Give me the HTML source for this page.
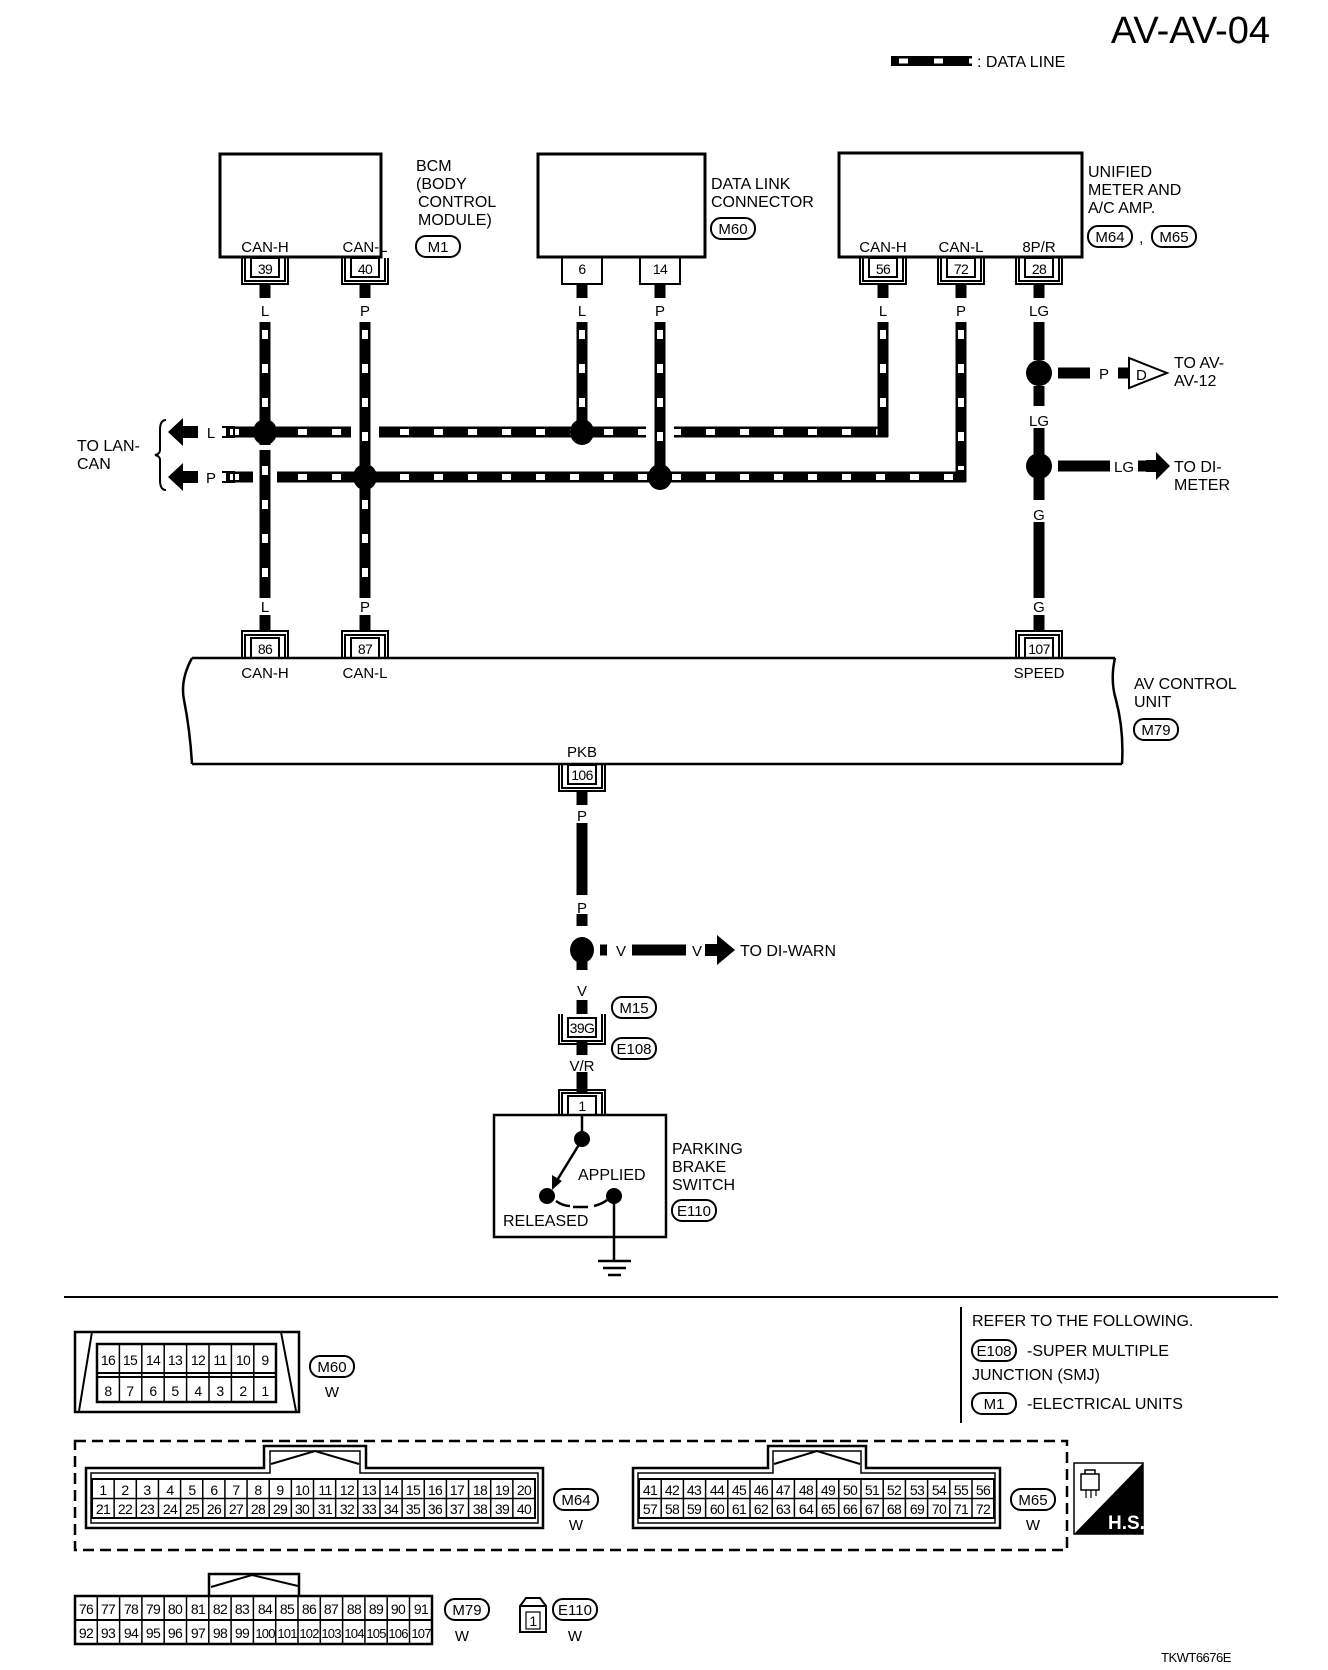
<!DOCTYPE html>
<html><head><meta charset="utf-8"><style>
html,body{margin:0;padding:0;background:#fff;}
svg{display:block;}
text{font-family:"Liberation Sans",sans-serif;fill:#000;}
.l{font-size:16px;}
.w{font-size:15px;text-anchor:middle;}
.n{font-size:14px;text-anchor:middle;letter-spacing:-0.6px;}
.c{font-size:13px;text-anchor:middle;letter-spacing:-0.8px;}
</style></head><body>
<svg width="1328" height="1670" viewBox="0 0 1328 1670" xmlns="http://www.w3.org/2000/svg">
<defs>
<g id="ov"><rect x="0" y="0" width="44" height="21" rx="10" ry="10" fill="#fff" stroke="#000" stroke-width="2"/></g>
</defs>

<text x="1270" y="43" font-size="38" text-anchor="end">AV-AV-04</text>
<line x1="891" y1="61" x2="972" y2="61" stroke="#000" stroke-width="10"/>
<line x1="891" y1="61" x2="972" y2="61" stroke="#fff" stroke-width="5" stroke-dasharray="0 8 9 18"/>
<text x="977" y="67" font-size="16">: DATA LINE</text>

<rect x="220" y="154" width="161" height="103" fill="none" stroke="#000" stroke-width="3"/>
<text class="w" x="265" y="252">CAN-H</text><text class="w" x="365" y="252">CAN-L</text>
<text class="l" x="416" y="171">BCM</text><text class="l" x="416" y="189">(BODY</text>
<text class="l" x="418" y="207">CONTROL</text><text class="l" x="418" y="225">MODULE)</text>
<use href="#ov" x="416" y="236"/><text class="w" x="438" y="252">M1</text>

<rect x="538" y="154" width="167" height="103" fill="none" stroke="#000" stroke-width="3"/>
<text class="l" x="711" y="189">DATA LINK</text><text class="l" x="711" y="207">CONNECTOR</text>
<use href="#ov" x="711" y="218"/><text class="w" x="733" y="234">M60</text>

<rect x="839" y="153" width="243" height="104" fill="none" stroke="#000" stroke-width="3"/>
<text class="w" x="883" y="252">CAN-H</text><text class="w" x="961" y="252">CAN-L</text><text class="w" x="1039" y="252">8P/R</text>
<text class="l" x="1088" y="177">UNIFIED</text><text class="l" x="1088" y="195">METER AND</text><text class="l" x="1088" y="213">A/C AMP.</text>
<use href="#ov" x="1088" y="226"/><text class="w" x="1110" y="242">M64</text>
<text class="l" x="1139" y="243">,</text>
<use href="#ov" x="1152" y="226"/><text class="w" x="1174" y="242">M65</text>

<g fill="none" stroke="#000" stroke-width="2">
<g id="tc39"><rect x="251" y="258" width="28" height="19"/><path d="M245 258V281H285V258M242 258V284H288V258"/></g>
<use href="#tc39" x="100"/>
<use href="#tc39" x="618"/>
<use href="#tc39" x="696"/>
<use href="#tc39" x="774"/>
<path d="M562 258V284H602V258"/><path d="M640 258V284H680V258"/>
</g>
<text class="n" x="265" y="274">39</text><text class="n" x="365" y="274">40</text>
<text class="n" x="582" y="274">6</text><text class="n" x="660" y="274">14</text>
<text class="n" x="883" y="274">56</text><text class="n" x="961" y="274">72</text><text class="n" x="1039" y="274">28</text>

<g stroke="#000" stroke-width="11">
<line x1="265" y1="284" x2="265" y2="298"/><line x1="365" y1="284" x2="365" y2="298"/>
<line x1="582" y1="284" x2="582" y2="298"/><line x1="660" y1="284" x2="660" y2="298"/>
<line x1="883" y1="284" x2="883" y2="298"/><line x1="961" y1="284" x2="961" y2="298"/>
<line x1="1039" y1="284" x2="1039" y2="298"/>
</g>
<text class="w" x="265" y="316">L</text><text class="w" x="365" y="316">P</text>
<text class="w" x="582" y="316">L</text><text class="w" x="660" y="316">P</text>
<text class="w" x="883" y="316">L</text><text class="w" x="961" y="316">P</text>
<text class="w" x="1039" y="316">LG</text>

<g stroke-width="11" stroke="#000" fill="none">
<polyline points="225,432 888,432"/>
<polyline points="225,477 966,477"/>
</g>
<g stroke-width="6" stroke="#fff" fill="none" stroke-dasharray="9 25">
<line x1="230" y1="432" x2="888" y2="432"/>
<line x1="230" y1="477" x2="966" y2="477"/>
</g>
<g fill="#fff">
<rect x="351" y="424" width="28" height="16"/>
<rect x="646" y="424" width="28" height="16"/>
<rect x="253" y="469" width="24" height="16"/>
</g>
<g stroke-width="11" stroke="#000" fill="none">
<line x1="265" y1="322" x2="265" y2="598"/>
<line x1="365" y1="322" x2="365" y2="598"/>
<line x1="582" y1="322" x2="582" y2="432"/>
<line x1="660" y1="322" x2="660" y2="477"/>
<line x1="883" y1="322" x2="883" y2="437"/>
<line x1="961" y1="322" x2="961" y2="482"/>
</g>
<g stroke-width="6" stroke="#fff" fill="none" stroke-dasharray="9 25">
<line x1="265" y1="330" x2="265" y2="598"/>
<line x1="365" y1="330" x2="365" y2="598"/>
<line x1="582" y1="330" x2="582" y2="420"/>
<line x1="660" y1="330" x2="660" y2="470"/>
<line x1="883" y1="330" x2="883" y2="425"/>
<line x1="961" y1="330" x2="961" y2="470"/>
</g>
<rect x="253" y="445" width="24" height="5" fill="#fff"/>
<g fill="#000">
<ellipse cx="265" cy="432" rx="12" ry="13"/>
<ellipse cx="582" cy="432" rx="12" ry="13"/>
<ellipse cx="365" cy="477" rx="12" ry="13"/>
<ellipse cx="660" cy="477" rx="12" ry="13"/>
</g>
<rect x="206" y="424" width="20" height="16" fill="#fff"/>
<rect x="206" y="469" width="20" height="16" fill="#fff"/>
<path d="M222 427H234V437H222" fill="none" stroke="#000" stroke-width="2"/>
<path d="M222 472H234V482H222" fill="none" stroke="#000" stroke-width="2"/>
<text class="w" x="211" y="438">L</text><text class="w" x="211" y="483">P</text>
<path d="M168 432L183 418V426H198V438H183V446Z" fill="#000"/>
<path d="M168 477L183 463V471H198V483H183V491Z" fill="#000"/>
<path d="M166 420Q160 420 160 430V450Q160 454 155 455Q160 456 160 460V480Q160 490 166 490" fill="none" stroke="#000" stroke-width="2"/>
<text class="l" x="77" y="451">TO LAN-</text><text class="l" x="77" y="469">CAN</text>

<g stroke="#000" stroke-width="11">
<line x1="1039" y1="322" x2="1039" y2="360"/>
<line x1="1039" y1="386" x2="1039" y2="406"/>
<line x1="1039" y1="428" x2="1039" y2="454"/>
<line x1="1039" y1="478" x2="1039" y2="500"/>
<line x1="1039" y1="522" x2="1039" y2="598"/>
<line x1="1058" y1="373" x2="1090" y2="373"/>
<line x1="1118" y1="373" x2="1130" y2="373"/>
<line x1="1058" y1="466" x2="1110" y2="466"/>
<line x1="1138" y1="466" x2="1146" y2="466"/>
</g>
<circle cx="1039" cy="373" r="13"/><circle cx="1039" cy="466" r="13"/>
<text class="w" x="1039" y="426">LG</text><text class="w" x="1039" y="520">G</text>
<text class="w" x="1104" y="379">P</text><text class="w" x="1124" y="472">LG</text>
<path d="M1129 358V388L1167 373Z" fill="#fff" stroke="#000" stroke-width="2"/>
<text x="1136" y="380" font-size="15">D</text>
<path d="M1146 460H1156V452L1170 466L1156 480V472H1146Z" fill="#000"/>
<text class="l" x="1174" y="368">TO AV-</text><text class="l" x="1174" y="386">AV-12</text>
<text class="l" x="1174" y="472">TO DI-</text><text class="l" x="1174" y="490">METER</text>

<text class="w" x="265" y="612">L</text><text class="w" x="365" y="612">P</text><text class="w" x="1039" y="612">G</text>
<g stroke="#000" stroke-width="11">
<line x1="265" y1="615" x2="265" y2="630"/><line x1="365" y1="615" x2="365" y2="630"/><line x1="1039" y1="615" x2="1039" y2="630"/>
</g>
<g fill="none" stroke="#000" stroke-width="2">
<g id="bc"><rect x="251" y="638" width="28" height="20" fill="#fff"/><path d="M245 658V635H285V658M242 658V631H288V658"/></g>
<use href="#bc" x="100"/><use href="#bc" x="774"/>
</g>
<text class="n" x="265" y="654">86</text><text class="n" x="365" y="654">87</text><text class="n" x="1039" y="654">107</text>

<path d="M192 658H1115M192 764H1122" stroke="#000" stroke-width="2.5" fill="none"/>
<path d="M192 658Q180 680 184 700Q190 730 192 764" stroke="#000" stroke-width="2.5" fill="none"/>
<path d="M1115 658Q1110 680 1116 700Q1124 730 1122 764" stroke="#000" stroke-width="2.5" fill="none"/>
<text class="w" x="265" y="678">CAN-H</text><text class="w" x="365" y="678">CAN-L</text><text class="w" x="1039" y="678">SPEED</text>
<text class="l" x="1134" y="689">AV CONTROL</text><text class="l" x="1134" y="707">UNIT</text>
<use href="#ov" x="1134" y="719"/><text class="w" x="1156" y="735">M79</text>

<text class="w" x="582" y="757">PKB</text>
<g fill="none" stroke="#000" stroke-width="2">
<rect x="568" y="765" width="28" height="19"/><path d="M562 764V788H602V764M559 764V791H605V764"/>
</g>
<text class="n" x="582" y="780">106</text>
<g stroke="#000" stroke-width="11">
<line x1="582" y1="791" x2="582" y2="805"/>
<line x1="582" y1="823" x2="582" y2="895"/>
<line x1="582" y1="914" x2="582" y2="926"/>
<line x1="600" y1="950" x2="607" y2="950"/>
<line x1="632" y1="950" x2="686" y2="950"/>
<line x1="582" y1="960" x2="582" y2="970"/>
<line x1="582" y1="1000" x2="582" y2="1014"/>
<line x1="582" y1="1040" x2="582" y2="1055"/>
<line x1="582" y1="1072" x2="582" y2="1092"/>
</g>
<text class="w" x="582" y="821">P</text><text class="w" x="582" y="913">P</text>
<ellipse cx="582" cy="950" rx="12" ry="13"/>
<text class="w" x="621" y="956">V</text><text class="w" x="697" y="956">V</text>
<path d="M705 944H717V935L735 950L717 965V956H705Z" fill="#000"/>
<text class="l" x="740" y="956">TO DI-WARN</text>
<text class="w" x="582" y="996">V</text>
<g fill="none" stroke="#000" stroke-width="2">
<rect x="568" y="1018" width="28" height="19"/><path d="M562 1014V1041H602V1014M559 1014V1044H605V1014"/>
</g>
<text class="n" x="582" y="1033">39G</text>
<use href="#ov" x="612" y="997"/><text class="w" x="634" y="1013">M15</text>
<use href="#ov" x="612" y="1038"/><text class="w" x="634" y="1054">E108</text>
<text class="w" x="582" y="1071">V/R</text>
<g fill="none" stroke="#000" stroke-width="2">
<rect x="568" y="1096" width="28" height="19" fill="#fff"/><path d="M562 1115V1093H602V1115M559 1115V1090H605V1115"/>
</g>
<text class="n" x="582" y="1111">1</text>

<rect x="494" y="1115" width="172" height="122" fill="none" stroke="#000" stroke-width="2.5"/>
<line x1="582" y1="1115" x2="582" y2="1139" stroke="#000" stroke-width="2.5"/>
<circle cx="582" cy="1139" r="8"/><circle cx="547" cy="1196" r="8"/><circle cx="614" cy="1196" r="8"/>
<line x1="580" y1="1143" x2="556" y2="1182" stroke="#000" stroke-width="2.5"/>
<path d="M552 1190L552 1175L562 1181Z" fill="#000"/>
<path d="M556 1201Q563 1206 570 1206M573 1207H588M594 1206Q602 1204 607 1200" fill="none" stroke="#000" stroke-width="2.5"/>
<text class="l" x="578" y="1180">APPLIED</text>
<text class="l" x="503" y="1226">RELEASED</text>
<line x1="614" y1="1196" x2="614" y2="1261" stroke="#000" stroke-width="2.5"/>
<g stroke="#000" stroke-width="2.5"><line x1="598" y1="1261" x2="631" y2="1261"/><line x1="603" y1="1268" x2="626" y2="1268"/><line x1="608" y1="1275" x2="621" y2="1275"/></g>
<text class="l" x="672" y="1154">PARKING</text><text class="l" x="672" y="1172">BRAKE</text><text class="l" x="672" y="1190">SWITCH</text>
<use href="#ov" x="672" y="1200"/><text class="w" x="694" y="1216">E110</text>

<line x1="64" y1="1297" x2="1278" y2="1297" stroke="#000" stroke-width="2"/>
<line x1="961" y1="1307" x2="961" y2="1423" stroke="#000" stroke-width="2"/>
<text class="l" x="972" y="1326">REFER TO THE FOLLOWING.</text>
<use href="#ov" x="972" y="1340"/><text class="w" x="994" y="1356">E108</text>
<text class="l" x="1027" y="1356">-SUPER MULTIPLE</text>
<text class="l" x="972" y="1380">JUNCTION (SMJ)</text>
<use href="#ov" x="972" y="1393"/><text class="w" x="994" y="1409">M1</text>
<text class="l" x="1027" y="1409">-ELECTRICAL UNITS</text>

<rect x="75" y="1332" width="224" height="80" fill="none" stroke="#000" stroke-width="2.5"/>
<path d="M92 1332L79 1411M281 1332L296 1411" stroke="#000" stroke-width="2" fill="none"/>
<rect x="97" y="1344" width="179" height="58" fill="none" stroke="#000" stroke-width="2.5"/>
<line x1="97" y1="1373" x2="276" y2="1373" stroke="#000" stroke-width="2"/>
<line x1="97" y1="1377" x2="276" y2="1377" stroke="#000" stroke-width="2"/>
<g stroke="#000" stroke-width="1.5">
<line x1="119.4" y1="1344" x2="119.4" y2="1402"/><line x1="141.8" y1="1344" x2="141.8" y2="1402"/><line x1="164.2" y1="1344" x2="164.2" y2="1402"/><line x1="186.6" y1="1344" x2="186.6" y2="1402"/><line x1="209" y1="1344" x2="209" y2="1402"/><line x1="231.4" y1="1344" x2="231.4" y2="1402"/><line x1="253.8" y1="1344" x2="253.8" y2="1402"/>
</g>
<text class="n" x="108" y="1365">16</text><text class="n" x="130" y="1365">15</text><text class="n" x="153" y="1365">14</text><text class="n" x="175" y="1365">13</text><text class="n" x="198" y="1365">12</text><text class="n" x="220" y="1365">11</text><text class="n" x="243" y="1365">10</text><text class="n" x="265" y="1365">9</text>
<text class="n" x="108" y="1396">8</text><text class="n" x="130" y="1396">7</text><text class="n" x="153" y="1396">6</text><text class="n" x="175" y="1396">5</text><text class="n" x="198" y="1396">4</text><text class="n" x="220" y="1396">3</text><text class="n" x="243" y="1396">2</text><text class="n" x="265" y="1396">1</text>
<use href="#ov" x="310" y="1356"/><text class="w" x="332" y="1372">M60</text><text class="w" x="332" y="1397">W</text>

<rect x="75" y="1441" width="992" height="109" fill="none" stroke="#000" stroke-width="2.5" stroke-dasharray="11 6"/>

<path d="M86 1468H264V1446H366V1468H543V1528H86Z" fill="none" stroke="#000" stroke-width="2.5"/>
<path d="M91 1473H270V1451H360V1473H538V1523H91Z" fill="none" stroke="#000" stroke-width="1.5"/>
<path d="M271 1464L315 1451L359 1464" fill="none" stroke="#000" stroke-width="2"/>
<rect x="92" y="1479" width="443" height="39" fill="none" stroke="#000" stroke-width="2"/>
<line x1="92" y1="1498.5" x2="535" y2="1498.5" stroke="#000" stroke-width="1.5"/>
<g stroke="#000" stroke-width="1.5">
<line x1="114.15" y1="1479" x2="114.15" y2="1518"/><line x1="136.3" y1="1479" x2="136.3" y2="1518"/><line x1="158.45" y1="1479" x2="158.45" y2="1518"/><line x1="180.6" y1="1479" x2="180.6" y2="1518"/><line x1="202.75" y1="1479" x2="202.75" y2="1518"/><line x1="224.9" y1="1479" x2="224.9" y2="1518"/><line x1="247.05" y1="1479" x2="247.05" y2="1518"/><line x1="269.2" y1="1479" x2="269.2" y2="1518"/><line x1="291.35" y1="1479" x2="291.35" y2="1518"/><line x1="313.5" y1="1479" x2="313.5" y2="1518"/><line x1="335.65" y1="1479" x2="335.65" y2="1518"/><line x1="357.8" y1="1479" x2="357.8" y2="1518"/><line x1="379.95" y1="1479" x2="379.95" y2="1518"/><line x1="402.1" y1="1479" x2="402.1" y2="1518"/><line x1="424.25" y1="1479" x2="424.25" y2="1518"/><line x1="446.4" y1="1479" x2="446.4" y2="1518"/><line x1="468.55" y1="1479" x2="468.55" y2="1518"/><line x1="490.7" y1="1479" x2="490.7" y2="1518"/><line x1="512.85" y1="1479" x2="512.85" y2="1518"/>
</g>
<text class="n" x="103" y="1495">1</text><text class="n" x="125" y="1495">2</text><text class="n" x="147" y="1495">3</text><text class="n" x="170" y="1495">4</text><text class="n" x="192" y="1495">5</text><text class="n" x="214" y="1495">6</text><text class="n" x="236" y="1495">7</text><text class="n" x="258" y="1495">8</text><text class="n" x="280" y="1495">9</text><text class="n" x="302" y="1495">10</text><text class="n" x="325" y="1495">11</text><text class="n" x="347" y="1495">12</text><text class="n" x="369" y="1495">13</text><text class="n" x="391" y="1495">14</text><text class="n" x="413" y="1495">15</text><text class="n" x="435" y="1495">16</text><text class="n" x="457" y="1495">17</text><text class="n" x="480" y="1495">18</text><text class="n" x="502" y="1495">19</text><text class="n" x="524" y="1495">20</text>
<text class="n" x="103" y="1514">21</text><text class="n" x="125" y="1514">22</text><text class="n" x="147" y="1514">23</text><text class="n" x="170" y="1514">24</text><text class="n" x="192" y="1514">25</text><text class="n" x="214" y="1514">26</text><text class="n" x="236" y="1514">27</text><text class="n" x="258" y="1514">28</text><text class="n" x="280" y="1514">29</text><text class="n" x="302" y="1514">30</text><text class="n" x="325" y="1514">31</text><text class="n" x="347" y="1514">32</text><text class="n" x="369" y="1514">33</text><text class="n" x="391" y="1514">34</text><text class="n" x="413" y="1514">35</text><text class="n" x="435" y="1514">36</text><text class="n" x="457" y="1514">37</text><text class="n" x="480" y="1514">38</text><text class="n" x="502" y="1514">39</text><text class="n" x="524" y="1514">40</text>
<use href="#ov" x="554" y="1489"/><text class="w" x="576" y="1505">M64</text><text class="w" x="576" y="1530">W</text>

<path d="M633 1468H768V1446H866V1468H1000V1528H633Z" fill="none" stroke="#000" stroke-width="2.5"/>
<path d="M638 1473H773V1451H861V1473H995V1523H638Z" fill="none" stroke="#000" stroke-width="1.5"/>
<path d="M774 1464L817 1451L860 1464" fill="none" stroke="#000" stroke-width="2"/>
<rect x="639" y="1479" width="355" height="39" fill="none" stroke="#000" stroke-width="2"/>
<line x1="639" y1="1498.5" x2="994" y2="1498.5" stroke="#000" stroke-width="1.5"/>
<g stroke="#000" stroke-width="1.5">
<line x1="661.2" y1="1479" x2="661.2" y2="1518"/><line x1="683.4" y1="1479" x2="683.4" y2="1518"/><line x1="705.6" y1="1479" x2="705.6" y2="1518"/><line x1="727.8" y1="1479" x2="727.8" y2="1518"/><line x1="750" y1="1479" x2="750" y2="1518"/><line x1="772.2" y1="1479" x2="772.2" y2="1518"/><line x1="794.4" y1="1479" x2="794.4" y2="1518"/><line x1="816.6" y1="1479" x2="816.6" y2="1518"/><line x1="838.8" y1="1479" x2="838.8" y2="1518"/><line x1="861" y1="1479" x2="861" y2="1518"/><line x1="883.2" y1="1479" x2="883.2" y2="1518"/><line x1="905.4" y1="1479" x2="905.4" y2="1518"/><line x1="927.6" y1="1479" x2="927.6" y2="1518"/><line x1="949.8" y1="1479" x2="949.8" y2="1518"/><line x1="972" y1="1479" x2="972" y2="1518"/>
</g>
<text class="n" x="650" y="1495">41</text><text class="n" x="672" y="1495">42</text><text class="n" x="694" y="1495">43</text><text class="n" x="717" y="1495">44</text><text class="n" x="739" y="1495">45</text><text class="n" x="761" y="1495">46</text><text class="n" x="783" y="1495">47</text><text class="n" x="806" y="1495">48</text><text class="n" x="828" y="1495">49</text><text class="n" x="850" y="1495">50</text><text class="n" x="872" y="1495">51</text><text class="n" x="894" y="1495">52</text><text class="n" x="917" y="1495">53</text><text class="n" x="939" y="1495">54</text><text class="n" x="961" y="1495">55</text><text class="n" x="983" y="1495">56</text>
<text class="n" x="650" y="1514">57</text><text class="n" x="672" y="1514">58</text><text class="n" x="694" y="1514">59</text><text class="n" x="717" y="1514">60</text><text class="n" x="739" y="1514">61</text><text class="n" x="761" y="1514">62</text><text class="n" x="783" y="1514">63</text><text class="n" x="806" y="1514">64</text><text class="n" x="828" y="1514">65</text><text class="n" x="850" y="1514">66</text><text class="n" x="872" y="1514">67</text><text class="n" x="894" y="1514">68</text><text class="n" x="917" y="1514">69</text><text class="n" x="939" y="1514">70</text><text class="n" x="961" y="1514">71</text><text class="n" x="983" y="1514">72</text>
<use href="#ov" x="1011" y="1489"/><text class="w" x="1033" y="1505">M65</text><text class="w" x="1033" y="1530">W</text>

<rect x="1074" y="1463" width="69" height="71" fill="#fff" stroke="#000" stroke-width="1.5"/>
<path d="M1143 1463V1534H1074Z" fill="#000"/>
<path d="M1081 1474h18v16h-18z M1085 1470h10v4h-10z" fill="none" stroke="#000" stroke-width="1.5"/>
<path d="M1086 1490v8M1091 1490v8M1096 1490v6" stroke="#000" stroke-width="1.2"/>
<text x="1108" y="1529" font-size="19" font-weight="bold" style="fill:#fff">H.S.</text>

<path d="M209 1596V1574H299V1596" fill="none" stroke="#000" stroke-width="2.5"/>
<path d="M211 1587L252 1575L298 1586" fill="none" stroke="#000" stroke-width="2"/>
<rect x="75" y="1596" width="357" height="48" fill="none" stroke="#000" stroke-width="2.5"/>
<line x1="75" y1="1620" x2="432" y2="1620" stroke="#000" stroke-width="2"/>
<g stroke="#000" stroke-width="1.5">
<line x1="97.3" y1="1596" x2="97.3" y2="1644"/><line x1="119.6" y1="1596" x2="119.6" y2="1644"/><line x1="141.9" y1="1596" x2="141.9" y2="1644"/><line x1="164.2" y1="1596" x2="164.2" y2="1644"/><line x1="186.5" y1="1596" x2="186.5" y2="1644"/><line x1="208.8" y1="1596" x2="208.8" y2="1644"/><line x1="231.1" y1="1596" x2="231.1" y2="1644"/><line x1="253.4" y1="1596" x2="253.4" y2="1644"/><line x1="275.7" y1="1596" x2="275.7" y2="1644"/><line x1="298" y1="1596" x2="298" y2="1644"/><line x1="320.3" y1="1596" x2="320.3" y2="1644"/><line x1="342.6" y1="1596" x2="342.6" y2="1644"/><line x1="364.9" y1="1596" x2="364.9" y2="1644"/><line x1="387.2" y1="1596" x2="387.2" y2="1644"/><line x1="409.5" y1="1596" x2="409.5" y2="1644"/>
</g>
<text class="n" x="86" y="1614">76</text><text class="n" x="108" y="1614">77</text><text class="n" x="131" y="1614">78</text><text class="n" x="153" y="1614">79</text><text class="n" x="175" y="1614">80</text><text class="n" x="198" y="1614">81</text><text class="n" x="220" y="1614">82</text><text class="n" x="242" y="1614">83</text><text class="n" x="265" y="1614">84</text><text class="n" x="287" y="1614">85</text><text class="n" x="309" y="1614">86</text><text class="n" x="331" y="1614">87</text><text class="n" x="354" y="1614">88</text><text class="n" x="376" y="1614">89</text><text class="n" x="398" y="1614">90</text><text class="n" x="421" y="1614">91</text>
<text class="n" x="86" y="1638">92</text><text class="n" x="108" y="1638">93</text><text class="n" x="131" y="1638">94</text><text class="n" x="153" y="1638">95</text><text class="n" x="175" y="1638">96</text><text class="n" x="198" y="1638">97</text><text class="n" x="220" y="1638">98</text><text class="n" x="242" y="1638">99</text><text class="c" x="265" y="1638">100</text><text class="c" x="287" y="1638">101</text><text class="c" x="309" y="1638">102</text><text class="c" x="331" y="1638">103</text><text class="c" x="354" y="1638">104</text><text class="c" x="376" y="1638">105</text><text class="c" x="398" y="1638">106</text><text class="c" x="421" y="1638">107</text>
<use href="#ov" x="445" y="1599"/><text class="w" x="467" y="1615">M79</text><text class="w" x="462" y="1641">W</text>

<path d="M520 1606L526 1598H540L546 1606V1632H520Z" fill="none" stroke="#000" stroke-width="2"/>
<line x1="520" y1="1606" x2="546" y2="1606" stroke="#000" stroke-width="2"/>
<rect x="526" y="1612" width="14" height="17" fill="none" stroke="#000" stroke-width="1.2"/>
<text class="n" x="533" y="1626">1</text>
<use href="#ov" x="553" y="1599"/><text class="w" x="575" y="1615">E110</text><text class="w" x="575" y="1641">W</text>

<text x="1161" y="1662" font-size="13" letter-spacing="-0.5">TKWT6676E</text>
</svg>
</body></html>
